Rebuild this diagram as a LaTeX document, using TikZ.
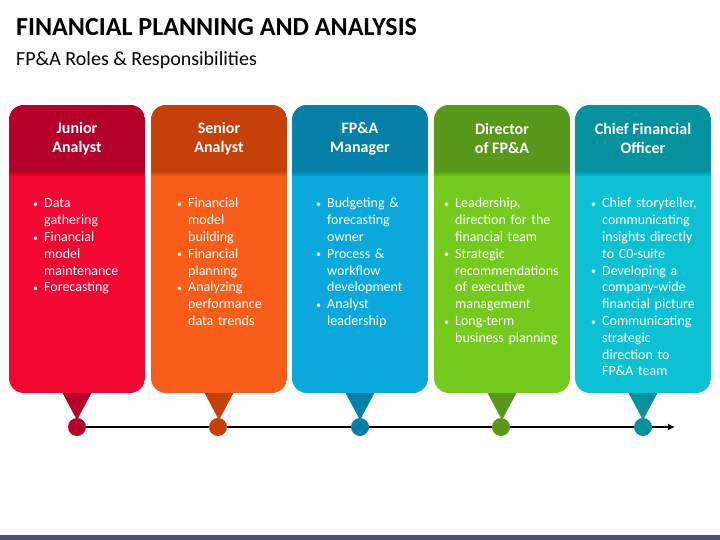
\documentclass[tikz,border=0pt]{standalone}
\usepackage{fontspec}
\setmainfont{Carlito}
\usetikzlibrary{arrows.meta}
\definecolor{hA}{HTML}{B4002A}\definecolor{bA}{HTML}{F20732}
\definecolor{hB}{HTML}{C54108}\definecolor{bB}{HTML}{F85E1A}
\definecolor{hC}{HTML}{0580A8}\definecolor{bC}{HTML}{0AA8DC}
\definecolor{hD}{HTML}{58981B}\definecolor{bD}{HTML}{74CB1E}
\definecolor{hE}{HTML}{05929E}\definecolor{bE}{HTML}{0CC1D3}
\definecolor{barcol}{HTML}{45546A}
\newcommand{\bitem}[1]{\par\leftskip=12pt\noindent\strut\llap{\makebox[12pt][l]{\hspace{1pt}\raisebox{0.5pt}{\fontsize{10}{10}\selectfont\textbullet}}}#1}
\tikzset{
  hdrtext/.style={text=white,font=\fontsize{16}{19}\selectfont\bfseries,align=center,inner sep=0pt},
  bodytext/.style={text=white,font=\fontsize{14}{16.8}\selectfont,align=left,text width=135pt,inner sep=0pt,anchor=north west},
  dot/.style={circle,minimum size=18pt,inner sep=0pt},
}
\newcommand{\card}[5]{% #1 left x, #2 header col, #3 body col, #4 name, #5 header text
  \begin{scope}
    \clip[rounded corners=15pt] (#1,105) rectangle ++(136,288);
    \fill[#3] (#1,105) rectangle ++(136,288);
    \fill[#2] (#1,105) rectangle ++(136,67);
    \fill[black,opacity=0.18] (#1,172) rectangle ++(136,2.5);
    \fill[black,opacity=0.08] (#1,174.5) rectangle ++(136,2);
  \end{scope}
  \fill[#2] (#1+53.5,393) -- (#1+82.5,393) -- (#1+68,420) -- cycle;
  \node[hdrtext] (h#4) at (#1+68,138.5) {#5};
}
\begin{document}
\begin{tikzpicture}[x=1pt,y=-1pt]
\useasboundingbox (0,0) rectangle (720,540);
\fill[white] (0,0) rectangle (720,540);
\fill[barcol] (0,535) rectangle (720,540);
\node[anchor=base west,inner sep=0pt,font=\fontsize{26}{30}\selectfont\bfseries] (title) at (16,36) {FINANCIAL PLANNING AND ANALYSIS};
\node[anchor=base west,inner sep=0pt,font=\fontsize{20}{24}\selectfont] (subtitle) at (16,66) {FP\&A Roles \& Responsibilities};

\card{9}{hA}{bA}{1}{Junior\\Analyst}
\card{151}{hB}{bB}{2}{Senior\\Analyst}
\card{292}{hC}{bC}{3}{FP\&A\\Manager}
\card{434}{hD}{bD}{4}{Director\\of FP\&A}
\card{575}{hE}{bE}{5}{Chief Financial\\Officer}

\node[bodytext] (b1) at (32,191) {\bitem{Data\\gathering}\bitem{Financial\\model\\maintenance}\bitem{Forecasting}\par};
\node[bodytext] (b2) at (176,191) {\bitem{Financial\\model\\building}\bitem{Financial\\planning}\bitem{Analyzing\\performance\\data trends}\par};
\node[bodytext] (b3) at (315,191) {\bitem{Budgeting \&\\forecasting\\owner}\bitem{Process \&\\workflow\\development}\bitem{Analyst\\leadership}\par};
\node[bodytext] (b4) at (443,191) {\bitem{Leadership,\\direction for the\\financial team}\bitem{Strategic\\recommendations\\of executive\\management}\bitem{Long-term\\business planning}\par};
\node[bodytext] (b5) at (590,191) {\bitem{Chief storyteller,\\communicating\\insights directly\\to C0-suite}\bitem{Developing a\\company-wide\\financial picture}\bitem{Communicating\\strategic\\direction to\\FP\&A team}\par};

\node[dot,fill=hA] (c1) at (77,427) {};
\node[dot,fill=hB] (c2) at (218,427) {};
\node[dot,fill=hC] (c3) at (360,427) {};
\node[dot,fill=hD] (c4) at (501,427) {};
\node[dot,fill=hE] (c5) at (643,427) {};
\coordinate (end) at (675,427);
\draw[line width=1.2pt,-{Latex[length=7pt,width=7pt]}] (c1.east) -- (c2.west) (c2.east) -- (c3.west) (c3.east) -- (c4.west) (c4.east) -- (c5.west) (c5.east) -- (end);
\end{tikzpicture}
\end{document}
